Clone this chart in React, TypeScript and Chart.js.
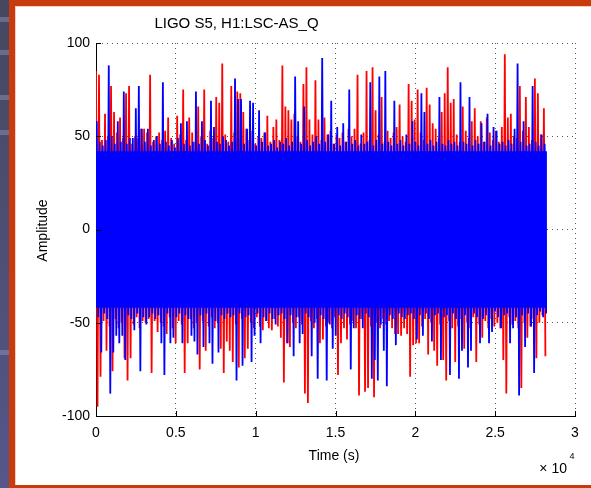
import React, { useEffect, useRef } from "react";
import { Chart, registerables } from "chart.js";

Chart.register(...registerables);

// ---- data (one value per ~3px column) ----
const T_END = 28240; // seconds, last sample
const BLUE_CORE = 42; // amplitude range where the blue trace is solid
const xTickValues = [0, 5000, 10000, 15000, 20000, 25000, 30000];
const xTickLabels = ["0", "0.5", "1", "1.5", "2", "2.5", "3"];
const yTickValues = [-100, -50, 0, 50, 100];
const yTickLabels = ["-100", "-50", "0", "50", "100"];

const blueHi = [
  58, 47, 45, 48, 88, 50, 46, 58, 47, 74,
  46, 49, 49, 65, 77, 54, 47, 54, 45, 48,
  50, 46, 79, 47, 45, 48, 44, 49, 57, 46,
  58, 45, 47, 74, 46, 58, 48, 45, 69, 55,
  47, 46, 50, 48, 45, 47, 81, 70, 70, 46,
  54, 69, 68, 45, 64, 47, 52, 45, 46, 48,
  44, 47, 46, 49, 45, 47, 82, 58, 46, 66,
  48, 45, 47, 50, 46, 92, 47, 51, 69, 46,
  55, 45, 57, 47, 75, 46, 48, 45, 51, 46,
  47, 79, 45, 48, 82, 46, 85, 47, 45, 69,
  46, 48, 45, 51, 46, 58, 47, 45, 73, 63,
  46, 48, 45, 47, 71, 46, 45, 48, 46, 47,
  45, 79, 47, 46, 71, 45, 48, 46, 57, 47,
  62, 45, 55, 53, 46, 47, 45, 48, 46, 54,
  89, 47, 58, 45, 46, 77, 47, 45, 51, 46,
];

const blueLo = [
  -47, -66, -45, -48, -88, -66, -57, -61, -57, -70,
  -46, -48, -54, -45, -76, -47, -51, -47, -45, -48,
  -46, -61, -78, -45, -61, -58, -47, -45, -61, -46,
  -48, -57, -60, -67, -46, -63, -45, -61, -72, -49,
  -66, -46, -48, -45, -47, -46, -81, -45, -73, -47,
  -46, -71, -57, -45, -61, -47, -49, -45, -48, -51,
  -46, -45, -48, -61, -46, -68, -47, -61, -56, -45,
  -47, -68, -50, -80, -46, -48, -81, -51, -64, -57,
  -46, -48, -45, -47, -75, -53, -46, -48, -53, -45,
  -47, -80, -70, -81, -51, -65, -84, -46, -48, -62,
  -45, -47, -48, -46, -45, -48, -59, -46, -57, -45,
  -48, -60, -46, -45, -70, -47, -46, -78, -45, -48,
  -80, -65, -46, -74, -65, -45, -47, -61, -48, -46,
  -61, -55, -44, -47, -53, -46, -45, -61, -53, -47,
  -89, -46, -63, -45, -52, -77, -46, -44, -47, -45,
];

const redHi = [
  85, 83, 48, 62, 50, 77, 63, 52, 60, 49,
  73, 77, 46, 50, 49, 54, 54, 52, 83, 47,
  50, 52, 48, 53, 60, 49, 46, 61, 51, 75,
  48, 60, 52, 47, 66, 50, 75, 46, 53, 49,
  71, 68, 89, 51, 47, 77, 52, 74, 73, 63,
  54, 48, 53, 46, 50, 49, 52, 61, 47, 55,
  59, 48, 88, 66, 64, 59, 62, 50, 47, 78,
  87, 59, 51, 80, 59, 48, 60, 51, 53, 46,
  51, 49, 52, 47, 54, 50, 54, 83, 46, 52,
  85, 48, 87, 64, 51, 71, 47, 53, 49, 52,
  55, 67, 50, 47, 78, 69, 59, 75, 52, 48,
  76, 67, 57, 54, 49, 63, 73, 87, 68, 70,
  51, 47, 66, 53, 49, 58, 65, 50, 58, 47,
  60, 52, 48, 53, 47, 55, 94, 60, 62, 50,
  49, 77, 53, 71, 55, 48, 81, 73, 51, 65,
];

const redLo = [
  -95, -79, -49, -65, -52, -76, -48, -53, -50, -69,
  -81, -69, -51, -47, -53, -49, -50, -48, -77, -49,
  -55, -50, -52, -56, -47, -53, -61, -49, -51, -77,
  -61, -48, -53, -50, -75, -49, -65, -52, -47, -53,
  -50, -64, -77, -60, -65, -71, -51, -74, -48, -69,
  -64, -50, -53, -47, -52, -54, -49, -53, -54, -48,
  -52, -58, -82, -61, -63, -50, -53, -47, -51, -88,
  -93, -49, -53, -48, -61, -59, -52, -50, -53, -47,
  -78, -61, -53, -59, -51, -49, -53, -89, -48, -87,
  -85, -52, -90, -50, -53, -48, -51, -49, -53, -56,
  -56, -57, -53, -56, -79, -62, -61, -61, -52, -48,
  -67, -50, -65, -73, -51, -70, -81, -49, -53, -71,
  -52, -48, -64, -50, -53, -47, -71, -51, -58, -49,
  -53, -48, -52, -50, -53, -70, -88, -47, -51, -49,
  -53, -85, -50, -58, -52, -48, -69, -50, -46, -68,
];

const TITLE = "LIGO S5, H1:LSC-AS_Q";
const X_LABEL = "Time (s)";
const Y_LABEL = "Amplitude";

const FONT = "'Liberation Sans', Arial, Helvetica, sans-serif";
const W = 591;
const H = 488;

function zigzag(hi: number[], lo: number[], offset: number) {
  const n = hi.length;
  const step = T_END / n;
  const pts: { x: number; y: number }[] = [];
  for (let i = 0; i < n; i++) {
    pts.push({ x: (i + offset) * step, y: hi[i] });
    pts.push({ x: (i + offset + 0.5) * step, y: lo[i] });
  }
  return pts;
}

const framePlugin = {
  id: "frame",
  beforeDraw(chart: any) {
    const ctx = chart.ctx as CanvasRenderingContext2D;
    ctx.save();
    ctx.fillStyle = "#ffffff";
    ctx.fillRect(0, 0, W, H);
    const g = ctx.createLinearGradient(0, 0, 0, H);
    g.addColorStop(0, "#47475f");
    g.addColorStop(1, "#56568a");
    ctx.fillStyle = g;
    ctx.fillRect(0, 0, 9, H);
    ctx.fillStyle = "rgba(150,150,190,0.45)";
    [17, 50, 95, 130, 350].forEach((y) => ctx.fillRect(0, y, 9, 5));
    ctx.fillStyle = "#c93a0c";
    ctx.fillRect(9, 0, W - 9, 6);
    ctx.fillRect(9, 0, 6, H);
    ctx.fillRect(9, 485, W - 9, 3);
    ctx.fillStyle = "#f2cfc2";
    ctx.fillRect(15, 6, W - 15, 1);
    ctx.fillRect(15, 6, 1, 479);
    ctx.restore();
  },
  afterDatasetsDraw(chart: any) {
    const ctx = chart.ctx as CanvasRenderingContext2D;
    const { left, bottom } = chart.chartArea;
    const xs = chart.scales.x;
    const ys = chart.scales.y;
    ctx.save();
    ctx.strokeStyle = "#000";
    ctx.lineWidth = 1;
    ctx.beginPath();
    xTickValues.forEach((v) => {
      const px = Math.round(xs.getPixelForValue(v)) + 0.5;
      ctx.moveTo(px, bottom);
      ctx.lineTo(px, bottom - 5);
    });
    yTickValues.forEach((v) => {
      const py = Math.round(ys.getPixelForValue(v)) + 0.5;
      ctx.moveTo(left, py);
      ctx.lineTo(left + 5, py);
    });
    ctx.stroke();
    ctx.restore();
  },
  afterDraw(chart: any) {
    const ctx = chart.ctx as CanvasRenderingContext2D;
    ctx.save();
    ctx.fillStyle = "#000";
    ctx.textBaseline = "alphabetic";
    ctx.font = `15px ${FONT}`;
    ctx.textAlign = "center";
    ctx.fillText(TITLE, 236.5, 28);
    ctx.font = `14px ${FONT}`;
    ctx.fillText(X_LABEL, 334, 460);
    ctx.save();
    ctx.translate(46.7, 230.5);
    ctx.rotate(-Math.PI / 2);
    ctx.fillText(Y_LABEL, 0, 0);
    ctx.restore();
    ctx.textAlign = "right";
    ctx.fillText("\u00d7 10", 567, 473);
    ctx.textAlign = "left";
    ctx.font = `9px ${FONT}`;
    ctx.fillText("4", 569.5, 459);
    ctx.restore();
  },
};

export default function App() {
  const ref = useRef<HTMLCanvasElement | null>(null);

  useEffect(() => {
    if (!ref.current) return;
    const chart = new Chart(ref.current, {
      type: "line",
      data: {
        datasets: [
          {
            label: "blue",
            data: zigzag(blueHi, blueLo, 0.25),
            borderColor: "#0000ff",
            borderWidth: 1.8,
            borderJoinStyle: "bevel",
            pointRadius: 0,
            tension: 0,
            fill: false,
            order: 0,
          },
          {
            label: "blue core",
            data: [
              { x: 0, y: BLUE_CORE },
              { x: T_END, y: BLUE_CORE },
            ],
            borderWidth: 0,
            borderColor: "rgba(0,0,0,0)",
            backgroundColor: "#0000ff",
            pointRadius: 0,
            tension: 0,
            fill: { target: { value: -BLUE_CORE } },
            order: 1,
          },
          {
            label: "red",
            data: zigzag(redHi, redLo, 0),
            borderColor: "#ff0000",
            borderWidth: 1.8,
            borderJoinStyle: "bevel",
            pointRadius: 0,
            tension: 0,
            fill: false,
            order: 2,
          },
        ],
      },
      options: {
        animation: false,
        responsive: false,
        devicePixelRatio: 1,
        events: [],
        layout: { padding: { left: 0, top: 43, right: 16, bottom: 0 } },
        plugins: {
          legend: { display: false },
          tooltip: { enabled: false },
          title: { display: false },
        },
        scales: {
          x: {
            type: "linear",
            min: 0,
            max: 30000,
            afterFit: (s: any) => {
              s.height = 72;
            },
            afterBuildTicks: (s: any) => {
              s.ticks = xTickValues.map((v) => ({ value: v }));
            },
            ticks: {
              autoSkip: false,
              maxRotation: 0,
              padding: 9,
              color: "#000",
              font: { family: FONT, size: 14 },
              callback: (_v: any, i: number) => xTickLabels[i] ?? "",
            },
            grid: { color: "#555555", lineWidth: 1, drawTicks: false },
            border: { display: true, color: "#000", width: 1, dash: [1, 4] },
          },
          y: {
            type: "linear",
            min: -100,
            max: 100,
            afterFit: (s: any) => {
              s.width = 96;
            },
            afterBuildTicks: (s: any) => {
              s.ticks = yTickValues.map((v) => ({ value: v }));
            },
            ticks: {
              autoSkip: false,
              padding: 6,
              color: "#000",
              font: { family: FONT, size: 14 },
              callback: (_v: any, i: number) => yTickLabels[i] ?? "",
            },
            grid: { color: "#555555", lineWidth: 1, drawTicks: false },
            border: { display: true, color: "#000", width: 1, dash: [1, 4] },
          },
        },
      },
      plugins: [framePlugin],
    } as any);
    return () => chart.destroy();
  }, []);

  return (
    <div style={{ position: "absolute", left: 0, top: 0, width: W, height: H }}>
      <canvas ref={ref} width={W} height={H} style={{ display: "block" }} />
    </div>
  );
}
